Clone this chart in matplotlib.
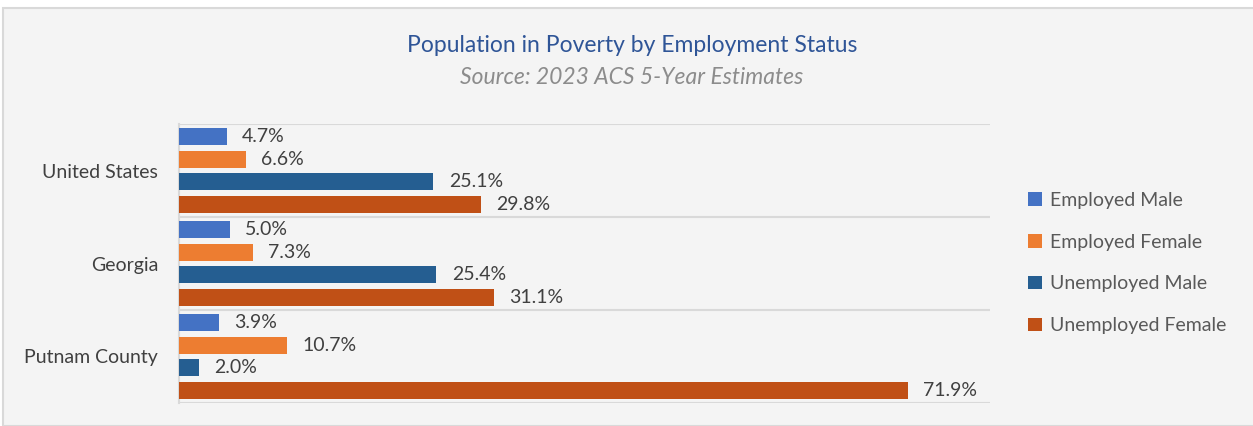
import numpy as np
import matplotlib
matplotlib.use('Agg')
import matplotlib.pyplot as plt
from matplotlib.patches import Rectangle, Patch

plt.rcParams['font.family'] = ['Lato', 'DejaVu Sans']

regions = ['United States', 'Georgia', 'Putnam County']
series = ['Employed Male', 'Employed Female', 'Unemployed Male', 'Unemployed Female']
emp_male = [4.7, 5.0, 3.9]
emp_female = [6.6, 7.3, 10.7]
unemp_male = [25.1, 25.4, 2.0]
unemp_female = [29.8, 31.1, 71.9]
colors = ['#4472c4', '#ed7d31', '#255e91', '#c05016']

fig = plt.figure(figsize=(12.53, 4.26), dpi=100)
fig.patch.set_facecolor('white')
# chart area background with border
fig.patches.append(Rectangle((3 / 1253, 0), 1.0, 1 - 8 / 426, transform=fig.transFigure,
                             facecolor='#f4f4f4', edgecolor='#d9d9d9', lw=1.5, zorder=-1))

ax = fig.add_axes([179 / 1253, 1 - 403 / 426, (990 - 179) / 1253, (403 - 124) / 426])
ax.set_facecolor('#f4f4f4')

y = np.arange(len(regions))
slot = 0.242
bar_h = 0.18
data = [emp_male, emp_female, unemp_male, unemp_female]
for i, (vals, c, name) in enumerate(zip(data, colors, series)):
    pos = y + (i - 1.5) * slot
    ax.barh(pos, vals, height=bar_h, color=c, label=name, zorder=3)
    for p, v in zip(pos, vals):
        ax.text(v + 1.5, p, f'{v:.1f}%', va='center', ha='left', fontsize=14, color='#404040')

ax.set_xlim(0, 80)
ax.set_ylim(len(regions) - 0.5, -0.5)
ax.set_yticks(y)
ax.set_yticklabels(regions, fontsize=14, color='#404040')
ax.set_yticks(np.arange(len(regions) + 1) - 0.5, minor=True)
ax.tick_params(axis='y', which='both', length=0, pad=15)
ax.set_xticks([])
ax.grid(axis='y', which='minor', color='#d9d9d9', lw=1.5)
for s in ['top', 'right', 'bottom']:
    ax.spines[s].set_visible(False)
ax.spines['left'].set_color('#d9d9d9')
ax.spines['left'].set_linewidth(1.5)

fig.text(632 / 1253, 1 - 46 / 426, 'Population in Poverty by Employment Status',
         ha='center', va='center', fontsize=16.5, color='#2f5597')
fig.text(632 / 1253, 1 - 77 / 426, 'Source: 2023 ACS 5-Year Estimates',
         ha='center', va='center', fontsize=16.5, color='#8c8c8c', style='italic')

handles = [Patch(facecolor=c, label=n) for c, n in zip(colors, series)]
fig.legend(handles=handles, loc='center left', bbox_to_anchor=(1011 / 1253, 1 - 263 / 426),
           frameon=False, fontsize=14, labelcolor='#595959', handlelength=0.7,
           handleheight=0.7, handletextpad=0.4, labelspacing=1.28)

fig.savefig('out.png', dpi=100, facecolor=fig.get_facecolor())
